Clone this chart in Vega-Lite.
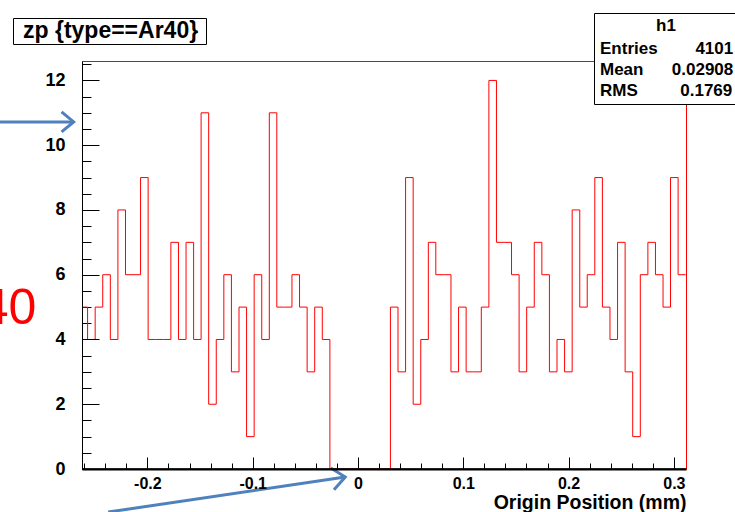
{
  "$schema": "https://vega.github.io/schema/vega-lite/v6.json",
  "width": 604,
  "height": 408,
  "autosize": {"type": "none"},
  "padding": {"left": 82, "top": 61, "right": 49, "bottom": 43},
  "background": "white",
  "config": {
    "view": {"stroke": "#ff0000", "strokeWidth": 1},
    "axis": {
      "grid": false,
      "zindex": 1,
      "labelFont": "Liberation Sans",
      "labelFontWeight": "bold",
      "labelColor": "#000000",
      "tickColor": "#000000",
      "tickWidth": 1,
      "domainColor": "#000000",
      "domainWidth": 1,
      "titleFont": "Liberation Sans",
      "titleFontWeight": "bold",
      "titleColor": "#000000",
      "labelFlush": false
    }
  },
  "datasets": {
    "hist": [
      {"low": -0.2640, "count": 5},
      {"low": -0.2568, "count": 4},
      {"low": -0.2496, "count": 5},
      {"low": -0.2424, "count": 6},
      {"low": -0.2352, "count": 4},
      {"low": -0.2280, "count": 8},
      {"low": -0.2208, "count": 6},
      {"low": -0.2137, "count": 6},
      {"low": -0.2065, "count": 9},
      {"low": -0.1993, "count": 4},
      {"low": -0.1921, "count": 4},
      {"low": -0.1849, "count": 4},
      {"low": -0.1777, "count": 7},
      {"low": -0.1705, "count": 4},
      {"low": -0.1633, "count": 7},
      {"low": -0.1561, "count": 4},
      {"low": -0.1490, "count": 11},
      {"low": -0.1418, "count": 2},
      {"low": -0.1346, "count": 4},
      {"low": -0.1274, "count": 6},
      {"low": -0.1202, "count": 3},
      {"low": -0.1130, "count": 5},
      {"low": -0.1058, "count": 1},
      {"low": -0.0986, "count": 6},
      {"low": -0.0914, "count": 4},
      {"low": -0.0842, "count": 11},
      {"low": -0.0771, "count": 5},
      {"low": -0.0699, "count": 5},
      {"low": -0.0627, "count": 6},
      {"low": -0.0555, "count": 5},
      {"low": -0.0483, "count": 3},
      {"low": -0.0411, "count": 5},
      {"low": -0.0339, "count": 4},
      {"low": -0.0267, "count": 0},
      {"low": -0.0195, "count": 0},
      {"low": -0.0123, "count": 0},
      {"low": -0.0052, "count": 0},
      {"low": 0.0020, "count": 0},
      {"low": 0.0092, "count": 0},
      {"low": 0.0164, "count": 0},
      {"low": 0.0236, "count": 0},
      {"low": 0.0308, "count": 5},
      {"low": 0.0380, "count": 3},
      {"low": 0.0452, "count": 9},
      {"low": 0.0524, "count": 2},
      {"low": 0.0596, "count": 4},
      {"low": 0.0668, "count": 7},
      {"low": 0.0739, "count": 6},
      {"low": 0.0811, "count": 6},
      {"low": 0.0883, "count": 3},
      {"low": 0.0955, "count": 5},
      {"low": 0.1027, "count": 3},
      {"low": 0.1099, "count": 3},
      {"low": 0.1171, "count": 5},
      {"low": 0.1243, "count": 12},
      {"low": 0.1315, "count": 7},
      {"low": 0.1387, "count": 7},
      {"low": 0.1458, "count": 6},
      {"low": 0.1530, "count": 3},
      {"low": 0.1602, "count": 5},
      {"low": 0.1674, "count": 7},
      {"low": 0.1746, "count": 6},
      {"low": 0.1818, "count": 3},
      {"low": 0.1890, "count": 4},
      {"low": 0.1962, "count": 3},
      {"low": 0.2034, "count": 8},
      {"low": 0.2106, "count": 5},
      {"low": 0.2177, "count": 6},
      {"low": 0.2249, "count": 9},
      {"low": 0.2321, "count": 5},
      {"low": 0.2393, "count": 4},
      {"low": 0.2465, "count": 7},
      {"low": 0.2537, "count": 3},
      {"low": 0.2609, "count": 1},
      {"low": 0.2681, "count": 6},
      {"low": 0.2753, "count": 7},
      {"low": 0.2825, "count": 6},
      {"low": 0.2897, "count": 5},
      {"low": 0.2968, "count": 9},
      {"low": 0.3040, "count": 6},
      {"low": 0.3112, "count": 6}
    ],
    "arrows": [
      {"id": "a1", "o": 0, "x": -0.3420, "y": 10.72},
      {"id": "a1", "o": 1, "x": -0.2700, "y": 10.72},
      {"id": "a1h", "o": 0, "x": -0.2815, "y": 11.03},
      {"id": "a1h", "o": 1, "x": -0.2700, "y": 10.72},
      {"id": "a1h", "o": 2, "x": -0.2815, "y": 10.41},
      {"id": "a2", "o": 0, "x": -0.2372, "y": -1.33},
      {"id": "a2", "o": 1, "x": -0.0121, "y": -0.247},
      {"id": "a2h", "o": 0, "x": -0.0258, "y": 0.028},
      {"id": "a2h", "o": 1, "x": -0.0121, "y": -0.247},
      {"id": "a2h", "o": 2, "x": -0.0228, "y": -0.639}
    ],
    "notes": [
      {"label": "40", "x": -0.3055, "y": 4.48}
    ],
    "stats": [
      {"stat": "Entries", "value": "4101"},
      {"stat": "Mean", "value": "0.02908"},
      {"stat": "RMS", "value": "0.1769"}
    ]
  },
  "layer": [
    {
      "data": {"name": "hist"},
      "mark": {"type": "line", "interpolate": "step-after", "strokeWidth": 1, "clip": true},
      "encoding": {
        "x": {
          "field": "low",
          "type": "quantitative",
          "scale": {"domain": [-0.2621, 0.3115], "nice": false, "zero": false},
          "axis": {
            "orient": "bottom",
            "zindex": 2,
            "values": [-0.2, -0.1, 0, 0.1, 0.2, 0.3],
            "tickSize": -12,
            "domainWidth": 2,
            "labelFontSize": 16,
            "labelPadding": 18.5,
            "labelExpr": "toString(datum.value)",
            "title": "Origin Position (mm)",
            "titleFontSize": 19.5,
            "titleAnchor": "end",
            "titleAlign": "right",
            "titleBaseline": "alphabetic",
            "titleX": 604,
            "titleY": 39
          }
        },
        "y": {
          "field": "count",
          "type": "quantitative",
          "scale": {"domain": [0, 12.6], "nice": false, "zero": false},
          "axis": {
            "orient": "left",
            "zindex": 2,
            "values": [0, 2, 4, 6, 8, 10, 12],
            "tickSize": -17,
            "labelFontSize": 18,
            "labelPadding": 34,
            "labelExpr": "toString(datum.value)",
            "title": null
          }
        },
        "color": {
          "datum": "zp {type==Ar40}",
          "scale": {"range": ["#ff0000"]},
          "legend": {
            "orient": "none",
            "legendX": -69,
            "legendY": -43,
            "title": null,
            "strokeColor": "#000000",
            "fillColor": "#ffffff",
            "padding": 1,
            "symbolSize": 0,
            "symbolStrokeWidth": 0,
            "symbolOpacity": 0,
            "labelOffset": -14,
            "labelFont": "Liberation Sans",
            "labelFontWeight": "bold",
            "labelFontSize": 23,
            "labelColor": "#000000",
            "labelLimit": 400,
            "labelExpr": "datum.label + '\u00a0\u200b'"
          }
        }
      }
    },
    {
      "data": {"name": "arrows"},
      "mark": {"type": "line", "strokeWidth": 3, "color": "#4f81bd", "clip": false},
      "encoding": {
        "x": {
          "field": "x",
          "type": "quantitative",
          "scale": {"domain": [-0.2621, 0.3115], "nice": false, "zero": false},
          "axis": {
            "orient": "bottom",
            "values": [-0.26, -0.24, -0.22, -0.2, -0.18, -0.16, -0.14, -0.12, -0.1, -0.08, -0.06, -0.04, -0.02, 0, 0.02, 0.04, 0.06, 0.08, 0.1, 0.12, 0.14, 0.16, 0.18, 0.2, 0.22, 0.24, 0.26, 0.28, 0.3],
            "tickSize": -6,
            "labels": false,
            "domain": false,
            "title": null
          }
        },
        "y": {
          "field": "y",
          "type": "quantitative",
          "scale": {"domain": [0, 12.6], "nice": false, "zero": false},
          "axis": {
            "orient": "left",
            "values": [0.5, 1, 1.5, 2.5, 3, 3.5, 4.5, 5, 5.5, 6.5, 7, 7.5, 8.5, 9, 9.5, 10.5, 11, 11.5, 12.5],
            "tickSize": -9,
            "labels": false,
            "domain": false,
            "title": null
          }
        },
        "detail": {"field": "id", "type": "nominal"},
        "order": {"field": "o", "type": "quantitative"}
      }
    },
    {
      "data": {"values": [{}]},
      "mark": {"type": "rule", "color": "#000000", "strokeWidth": 1.5},
      "encoding": {
        "y": {"datum": 0, "type": "quantitative", "axis": null, "scale": {"domain": [0, 12.6], "nice": false, "zero": false}}
      }
    },
    {
      "data": {"name": "notes"},
      "mark": {"type": "text", "align": "right", "baseline": "alphabetic", "font": "Liberation Sans", "fontSize": 50, "color": "#ff0000"},
      "encoding": {
        "x": {"field": "x", "type": "quantitative", "axis": null, "scale": {"domain": [-0.2621, 0.3115], "nice": false, "zero": false}},
        "y": {"field": "y", "type": "quantitative", "axis": null, "scale": {"domain": [0, 12.6], "nice": false, "zero": false}},
        "text": {"field": "label", "type": "nominal"}
      }
    },
    {
      "data": {"name": "stats"},
      "mark": {"type": "point", "opacity": 0},
      "encoding": {
        "shape": {
          "field": "stat",
          "type": "nominal",
          "legend": {
            "orient": "none",
            "legendX": 512,
            "legendY": -48,
            "title": "h1",
            "titleAnchor": "middle",
            "titleAlign": "center",
            "titleFont": "Liberation Sans",
            "titleFontWeight": "bold",
            "titleFontSize": 17,
            "titleColor": "#000000",
            "titlePadding": 5,
            "strokeColor": "#000000",
            "fillColor": "#ffffff",
            "padding": 5,
            "symbolSize": 0,
            "symbolStrokeWidth": 0,
            "symbolOpacity": 0,
            "labelOffset": -16,
            "rowPadding": 3,
            "labelFont": "Liberation Sans",
            "labelFontWeight": "bold",
            "labelFontSize": 17,
            "labelColor": "#000000",
            "labelLimit": 400,
            "labelExpr": "datum.label == 'Entries' ? 'Entries\u00a0\u00a0\u00a0\u00a0\u00a0\u00a0\u00a0\u00a04101\u00a0\u00a0\u00a0' : datum.label == 'Mean' ? 'Mean\u00a0\u00a0\u00a0\u00a0\u00a0\u00a00.02908' : 'RMS\u00a0\u00a0\u00a0\u00a0\u00a0\u00a0\u00a0\u00a0\u00a00.1769'"
          }
        }
      }
    }
  ],
  "resolve": {"axis": {"x": "independent", "y": "independent"}}
}
